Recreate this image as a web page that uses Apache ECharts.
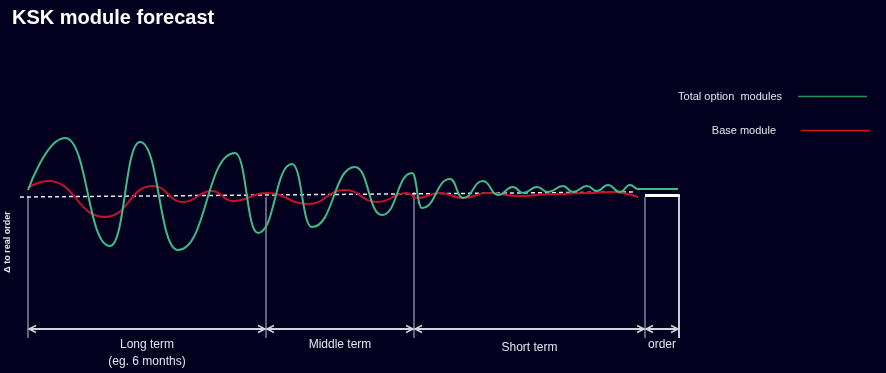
<!DOCTYPE html>
<html><head><meta charset="utf-8">
<style>html,body{margin:0;padding:0;background:#03001f;}#chart{width:886px;height:373px;}</style>
<script src="https://cdn.jsdelivr.net/npm/echarts@6/dist/echarts.min.js"></script>
</head><body><div id="chart"></div>
<script>
// ---- data (schematic units: x = time steps, y = deviation to real order) ----
const chartTitle = 'KSK module forecast';
const yAxisLabel = 'Δ to real order';
const seriesNames = ['Total option  modules', 'Base module'];
const timeGreen  = [0, 37, 82, 112, 150, 207, 230, 264, 284, 327, 354, 384, 394, 422, 435, 455, 470, 485, 495, 509, 520, 535, 545, 559, 569, 580, 592, 602, 610, 650];
const valueGreen = [6, 58, -50, 54, -54, 43, -37, 32, -31, 29, -19, 23, -12, 17, -2, 15, 1, 9, 3, 9, 4, 10, 4, 10, 5, 11, 4, 11, 7, 7];
const timeRed    = [0, 20, 77, 125, 155, 184, 205, 239, 280, 317, 349, 379, 389, 412, 435, 459, 492, 525, 559, 582, 610];
const valueRed   = [8, 15, -21, 10, -6, 5, -5, 3, -8, 6, -6, 3, -2, 3, -2, 3, 0, 2, 3, 4, -1];
const trendTime  = [-8, 607];
const trendValue = [-1, 4];
const phaseBounds = [0, 238, 386, 617, 651];
const phaseTops   = [0, -1, 4, -1, 1];
const phaseLabels = ['Long term\n(eg. 6 months)', 'Middle term', 'Short term', 'order'];

// ---- rendering ----
const zip = (a, b) => a.map((v, i) => [v, b[i]]);
const FONT = "'Liberation Sans', Arial, sans-serif";
const ARROW_Y = -133, LINE_BOTTOM = -142, BOX_TOP = 0.5;
const GREY = '#c4c4d8', ARROW = '#d4d4dc', TEXT = '#e4e4ee';
const GREEN = '#3dbd86', RED = '#c8102a';

const chart = echarts.init(document.getElementById('chart'));

function renderBounds(params, api) {
  const i = params.dataIndex;
  const x = api.value(0), top = api.value(1);
  const p0 = api.coord([x, top]), p1 = api.coord([x, LINE_BOTTOM]);
  const last = i === phaseBounds.length - 1;
  const children = [{
    type: 'line', shape: {x1: p0[0], y1: p0[1], x2: p1[0], y2: p1[1]},
    style: {stroke: last ? '#ffffff' : GREY, lineWidth: last ? 1.6 : 1}
  }];
  if (last) {
    const a = api.coord([phaseBounds[i - 1], BOX_TOP]), b = api.coord([x, BOX_TOP]);
    children.push({type: 'line', shape: {x1: a[0], y1: a[1], x2: b[0] + 0.8, y2: b[1]}, style: {stroke: '#ffffff', lineWidth: 3}});
  }
  return {type: 'group', children};
}

function renderPhase(params, api) {
  const i = params.dataIndex;
  const p0 = api.coord([api.value(0), ARROW_Y]), p1 = api.coord([api.value(1), ARROW_Y]);
  const y = p0[1], a = 7, h = 3.5;
  const x0 = p0[0] + 1, x1 = p1[0] - 1;
  return {type: 'group', children: [
    {type: 'line', shape: {x1: x0, y1: y, x2: x1, y2: y}, style: {stroke: ARROW, lineWidth: 2}},
    {type: 'polyline', shape: {points: [[x0 + a, y - h], [x0, y], [x0 + a, y + h]]}, style: {stroke: ARROW, lineWidth: 1.5, fill: null}},
    {type: 'polyline', shape: {points: [[x1 - a, y - h], [x1, y], [x1 - a, y + h]]}, style: {stroke: ARROW, lineWidth: 1.5, fill: null}},
    {type: 'text', x: (p0[0] + p1[0]) / 2, y: y + 7 + (i === 2 ? 3 : 0),
     style: {text: phaseLabels[i], fill: TEXT, fontSize: 12, fontFamily: FONT, align: 'center', verticalAlign: 'top', lineHeight: 17}}
  ]};
}

const legendBase = {
  orient: 'horizontal', align: 'right', icon: 'rect', itemWidth: 69, itemHeight: 1.5,
  selectedMode: false
};

chart.setOption({
  backgroundColor: '#03001f',
  animation: false,
  title: {text: chartTitle, left: 12, top: 8, padding: 0,
          textStyle: {color: '#ffffff', fontSize: 20, fontWeight: 'bold', fontFamily: FONT}},
  legend: [
    Object.assign({}, legendBase, {right: 14, top: 86,
      data: [{name: seriesNames[0], itemStyle: {color: '#1f8f50'}}],
      textStyle: {color: TEXT, fontSize: 11, fontFamily: FONT, padding: [0, 11, 0, 0]}}),
    Object.assign({}, legendBase, {right: 11, top: 120,
      data: [{name: seriesNames[1], itemStyle: {color: '#d0101e'}}],
      textStyle: {color: TEXT, fontSize: 11, fontFamily: FONT, padding: [0, 20, 0, 0]}})
  ],
  graphic: [{
    type: 'text', x: 8, y: 242, rotation: Math.PI / 2,
    style: {text: yAxisLabel, fill: TEXT, font: "bold 9px 'Liberation Sans', Arial, sans-serif", align: 'center', verticalAlign: 'middle'}
  }],
  grid: {left: 18, right: 207, top: 96, bottom: 32},
  xAxis: {type: 'value', min: -10, max: 651, show: false},
  yAxis: {type: 'value', min: -145, max: 100, show: false},
  series: [
    {name: 'trend', type: 'line', data: zip(trendTime, trendValue), showSymbol: false, silent: true,
     lineStyle: {color: '#e8e8f0', width: 1.5, type: [4, 3]}, z: 1},
    {name: seriesNames[1], type: 'line', data: zip(timeRed, valueRed), showSymbol: false,
     smooth: 0.5, smoothMonotone: 'x', lineStyle: {color: RED, width: 2}, itemStyle: {color: RED}, z: 2},
    {name: seriesNames[0], type: 'line', data: zip(timeGreen, valueGreen), showSymbol: false,
     smooth: 0.5, smoothMonotone: 'x', lineStyle: {color: GREEN, width: 2}, itemStyle: {color: GREEN}, z: 3},
    {name: 'bounds', type: 'custom', clip: false, silent: true, renderItem: renderBounds,
     data: zip(phaseBounds, phaseTops), z: 0},
    {name: 'phases', type: 'custom', clip: false, silent: true, renderItem: renderPhase,
     data: phaseBounds.slice(0, -1).map((b, i) => [b, phaseBounds[i + 1]]), z: 4}
  ]
});
</script></body></html>
